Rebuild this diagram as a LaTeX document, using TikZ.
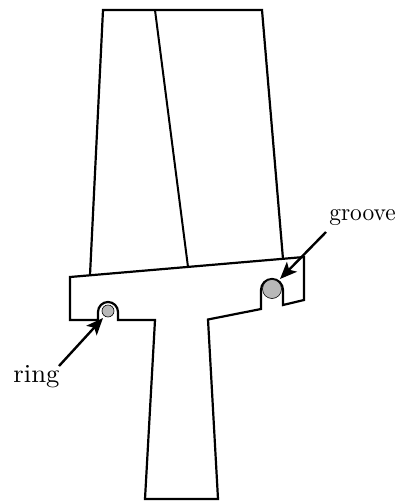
\documentclass[tikz,border=0pt]{standalone}
\usetikzlibrary{arrows.meta}
\tikzset{
  outline/.style={draw=black,line width=2.2pt,line join=miter},
  inner/.style={draw=black,line width=2pt},
  ringdot/.style={circle,draw=black,line width=0.6pt,fill=black!28,inner sep=0pt},
  pointer/.style={draw=black,line width=2.4pt,-{Stealth[length=17pt,width=14pt,inset=4pt]}},
  lbl/.style={inner sep=0pt,anchor=base,font=\fontsize{10}{12}\selectfont}
}
\begin{document}
\begin{tikzpicture}[x=1pt,y=-1pt]
\useasboundingbox (0,0) rectangle (398,501);
% blade
\draw[outline] (90,275) -- (103,10) -- (262,10) -- (283,259);
\draw[inner] (155,10) -- (188,267);
% platform and stem
\draw[outline] (70,277) -- (304,257) -- (304,300) -- (283,305) -- (283,290)
  arc[start angle=0,end angle=-180,radius=11] -- (261,309) -- (208,319.5)
  -- (218,499) -- (145,499) -- (155,320) -- (118,320) -- (118,312)
  arc[start angle=0,end angle=-180,radius=10] -- (98,320) -- (70,320) -- cycle;
% rings
\node[ringdot,minimum size=12pt] (ring) at (108,311) {};
\node[ringdot,minimum size=19pt] (grooveRing) at (272,289) {};
% labels
\node[lbl,xscale=2.67,yscale=2.6] (ringlabel) at (36.5,382) {ring};
\node[lbl,xscale=2.34,yscale=2.45] (groovelabel) at (362.5,220.5) {groove};
\coordinate (ringstart) at (59,366);
\coordinate (groovestart) at (326,232);
\draw[pointer] (ringstart) -- (103,318);
\draw[pointer] (groovestart) -- (280,279);
\end{tikzpicture}
\end{document}
